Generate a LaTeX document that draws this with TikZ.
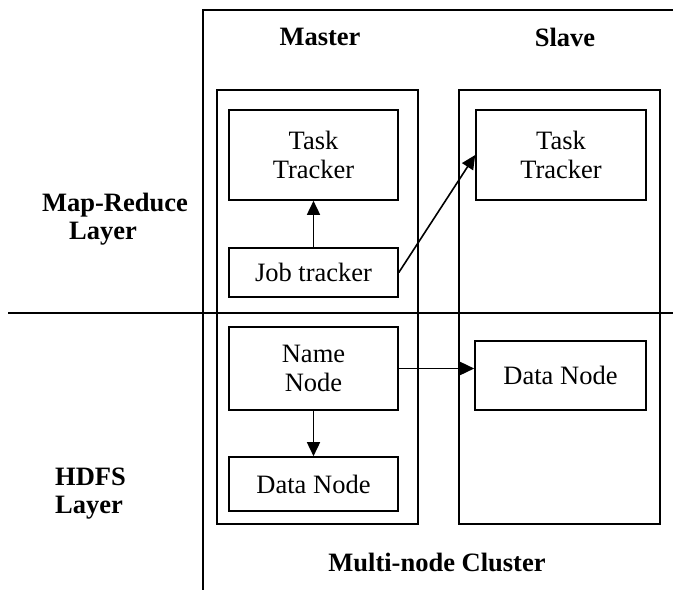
\documentclass[tikz,border=0pt]{standalone}
\usepackage{fontspec}
\setmainfont{Liberation Serif}
\usetikzlibrary{positioning, arrows.meta}

\begin{document}
\begin{tikzpicture}[
    x=1pt, y=-1pt,
    line width=1.6pt,         % 全体の線
    >={Triangle[length=14pt, width=13pt]},
    font=\fontsize{26.5}{29}\selectfont,
    % 内側の箱
    unit/.style={draw, align=center, inner sep=0pt, minimum width=169pt},
    % Master / Slave の外側の箱
    group/.style={draw, inner sep=0pt, minimum width=201pt, minimum height=434pt},
    % 太字の見出し
    heading/.style={font=\fontsize{26.5}{28}\selectfont\bfseries, align=left}
]
    \useasboundingbox (0,0) rectangle (673,590);

    % --- 1. 外枠と区切り線 ---
    \coordinate (topR) at (673,10);
    \coordinate (topL) at (203,10);
    \coordinate (botL) at (203,590);
    \draw (topR) -- (topL) -- (botL);
    \coordinate (sepL) at (8,313);
    \coordinate (sepR) at (673,313);
    \draw (sepL) -- (sepR);

    % --- 2. 見出し ---
    \node [heading] (master) at (320,37) {Master};
    \node [heading] (slave) at (565,37) {Slave};
    \node [heading] (cluster) at (437,562) {Multi-node Cluster};
    \node [heading, anchor=west] (mrLayer) at (38,219) {Map-Reduce\\\hspace{27pt}Layer};
    \node [heading, anchor=west] (hdfsLayer) at (51,494) {HDFS\\Layer};

    % --- 3. Master / Slave の箱 ---
    \node [group] (masterBox) at (317.5,307) {};
    \node [group] (slaveBox) at (559.5,307) {};

    % --- 4. 各ノード ---
    \node [unit, minimum height=90pt] (taskM) at (313.5,155) {Task\\Tracker};
    \node [unit, minimum height=49pt] (jobM) at (313.5,272.5) {Job tracker};
    \node [unit, minimum height=83pt] (nameM) at (313.5,368.5) {Name\\Node};
    \node [unit, minimum height=54pt] (dataM) at (313.5,484) {Data Node};
    \node [unit, minimum width=170pt, minimum height=90pt] (taskS) at (561,155) {Task\\Tracker};
    \node [unit, minimum width=171pt, minimum height=69pt] (dataS) at (560.5,375.5) {Data Node};

    % --- 5. 矢印 ---
    \draw [->] (jobM) -- (taskM);
    \draw [->] (nameM) -- (dataM);
    \draw [->] (jobM.east) -- (taskS.west);
    \draw [->] (nameM.east) -- (nameM.east -| dataS.west);

\end{tikzpicture}
\end{document}
